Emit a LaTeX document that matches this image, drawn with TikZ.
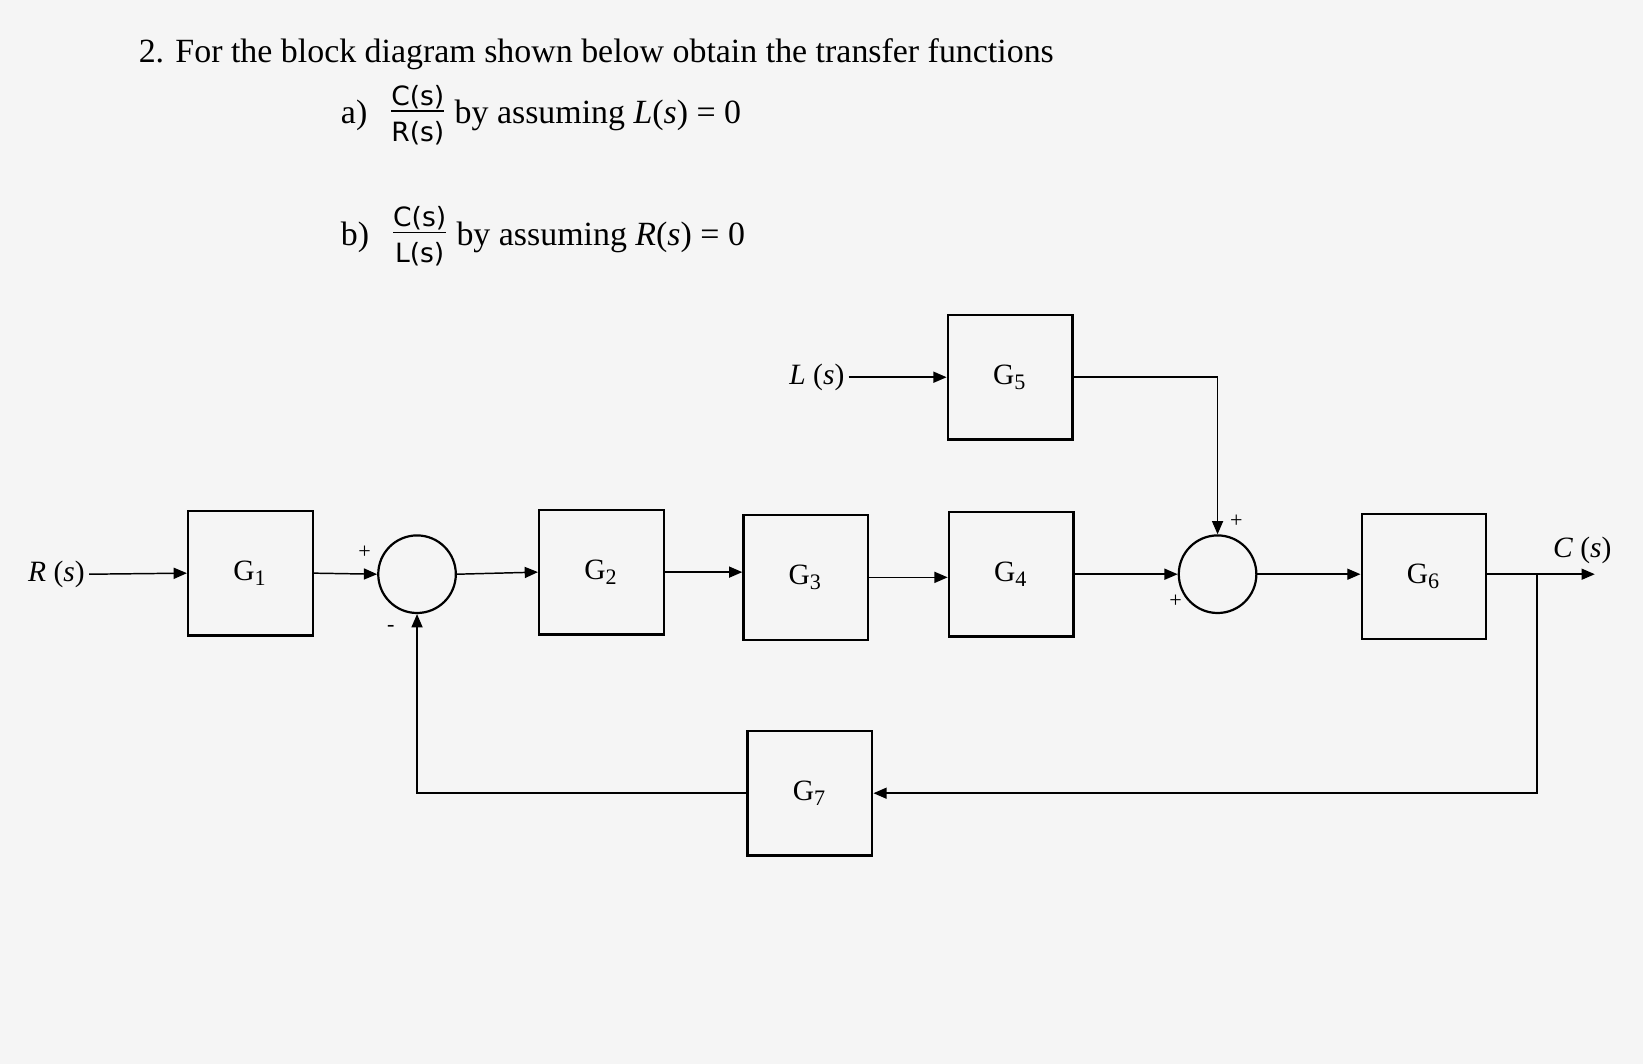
\documentclass[tikz,border=0pt]{standalone}
\usepackage{fontspec}
\setmainfont{Liberation Serif}
\setsansfont{DejaVu Sans}
\usetikzlibrary{arrows.meta}
\newcommand{\myfrac}[2]{\tikz[baseline=(fr.base)]\node[inner sep=0.5pt,font=\sffamily\fontsize{7.2}{8}\selectfont] (fr) {\begin{tabular}{@{}c@{}}#1\\[-1pt]\hline\rule{0pt}{8pt}#2\end{tabular}};}
\begin{document}
\begin{tikzpicture}[x=0.01cm,y=-0.01cm,
  blk/.style={draw,line width=0.6pt,minimum width=1.19cm,minimum height=1.19cm,inner sep=0pt,font=\fontsize{8}{9}\selectfont},
  sumj/.style={draw,circle,line width=0.6pt,minimum size=0.74cm,inner sep=0pt},
  sig/.style={line width=0.4pt,-{Triangle[length=3.6pt,width=3pt]}},
  lbl/.style={font=\fontsize{8}{9}\selectfont,inner sep=1pt},
  txt/.style={anchor=west,font=\fontsize{9.2}{11}\selectfont}]
\useasboundingbox (0,0) rectangle (1568,1015);
\fill[gray!8] (0,0) rectangle (1568,1015);
\node[txt] (title) at (120,52) {2. For the block diagram shown below obtain the transfer functions};
\node[txt] (qa) at (313,112) {a)\hspace{6pt}\myfrac{C(s)}{R(s)} by assuming \textit{L}(\textit{s}) = 0};
\node[txt] (qb) at (313,228) {b)\hspace{6pt}\myfrac{C(s)}{L(s)} by assuming \textit{R}(\textit{s}) = 0};

\node[blk] (g5) at (964,360) {G\textsubscript{5}};
\node[blk] (g1) at (239,547) {G\textsubscript{1}};
\node[sumj] (s1) at (398,548) {};
\node[blk] (g2) at (574,546) {G\textsubscript{2}};
\node[blk] (g3) at (769,551) {G\textsubscript{3}};
\node[blk] (g4) at (965,548) {G\textsubscript{4}};
\node[sumj] (s2) at (1162,548) {};
\node[blk] (g6) at (1359,550) {G\textsubscript{6}};
\node[blk] (g7) at (773,757) {G\textsubscript{7}};

\node[lbl,anchor=east] (L) at (810,360) {\textit{L} (\textit{s})};
\node[lbl,anchor=east] (R) at (85,548) {\textit{R} (\textit{s})};
\node[lbl] (C) at (1510,525) {\textit{C} (\textit{s})};
\coordinate (cout) at (1522,548);
\coordinate (tap) at (1467,548);

\draw[sig] (L.east) -- (g5.west);
\draw[sig] (R.east) -- (g1.west);
\draw[sig] (g1.east) -- (s1.west);
\draw[sig] (s1.east) -- (g2.west);
\draw[sig] (g2.east) -- (g3.west |- g2.east);
\draw[sig] (g3.east) -- (g4.west |- g3.east);
\draw[sig] (g4.east) -- (s2.west);
\draw[sig] (s2.east) -- (g6.west |- s2.east);
\draw[sig] (g6.east |- tap) -- (cout);
\draw[sig] (g5.east) -| (s2.north);
\draw[sig] (tap) |- (g7.east);
\draw[sig] (g7.west) -| (s1.south);

\node[font=\fontsize{6}{7}\selectfont] (p1) at (348,527) {+};
\node[font=\fontsize{6}{7}\selectfont] (m1) at (373,600) {-};
\node[font=\fontsize{6}{7}\selectfont] (p2) at (1180,497) {+};
\node[font=\fontsize{6}{7}\selectfont] (p3) at (1122,574) {+};
\end{tikzpicture}
\end{document}
